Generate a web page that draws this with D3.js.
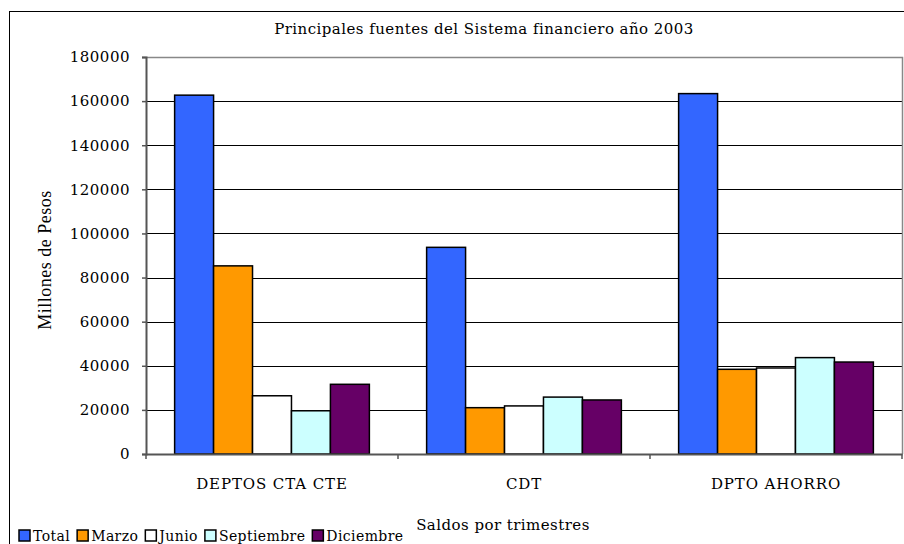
<!DOCTYPE html>
<html>
<head>
<meta charset="utf-8">
<script src="https://cdn.jsdelivr.net/npm/d3@7"></script>
<style>
  body { margin: 0; background: #fff; }
  text { font-family: "DejaVu Serif", serif; fill: #000; }
</style>
</head>
<body>
<svg id="chart" width="904" height="544"></svg>
<script>
const categories = ["DEPTOS CTA CTE", "CDT", "DPTO AHORRO"];
const series = ["Total", "Marzo", "Junio", "Septiembre", "Diciembre"];
const total = [162700, 93700, 163400];
const marzo = [85300, 21000, 38400];
const junio = [26400, 21800, 39000];
const septiembre = [19600, 25800, 43700];
const diciembre = [31600, 24500, 41700];
const yTicks = [0, 20000, 40000, 60000, 80000, 100000, 120000, 140000, 160000, 180000];
const colors = ["#3366FF", "#FF9900", "#FFFFFF", "#CCFFFF", "#660066"];

const values = [total, marzo, junio, septiembre, diciembre];
const data = categories.map((c, i) => ({
  cat: c,
  vals: series.map((s, j) => ({ key: s, value: values[j][i] }))
}));

const svg = d3.select("#chart");
const plot = { left: 146, right: 902, top: 57, bottom: 454 };

// chart area border
svg.append("rect")
  .attr("x", 9.5).attr("y", 11.5)
  .attr("width", 910).attr("height", 560)
  .attr("fill", "none").attr("stroke", "#000").attr("stroke-width", 1);

const x = d3.scaleBand().domain(categories).range([plot.left, plot.right]).padding(0);
const xInner = d3.scaleBand().domain(series).range([0, x.bandwidth()])
  .paddingInner(0).paddingOuter(0.735);
const y = d3.scaleLinear().domain([0, 180000]).range([plot.bottom, plot.top]);

// gridlines
svg.append("g")
  .selectAll("line")
  .data(yTicks.filter(d => d > 0 && d < 180000))
  .join("line")
  .attr("x1", plot.left).attr("x2", plot.right)
  .attr("y1", d => Math.round(y(d)) + 0.5).attr("y2", d => Math.round(y(d)) + 0.5)
  .attr("stroke", "#000").attr("stroke-width", 1);

// plot area border (top + right)
svg.append("path")
  .attr("d", `M${plot.left},${plot.top + 0.5}H${plot.right + 0.5}V${plot.bottom}`)
  .attr("fill", "none").attr("stroke", "#888").attr("stroke-width", 1.5);

// bars
const groups = svg.append("g")
  .selectAll("g")
  .data(data)
  .join("g")
  .attr("transform", d => `translate(${x(d.cat)},0)`);

groups.selectAll("rect")
  .data(d => d.vals)
  .join("rect")
  .attr("x", d => xInner(d.key))
  .attr("y", d => y(d.value))
  .attr("width", xInner.bandwidth())
  .attr("height", d => plot.bottom - y(d.value))
  .attr("fill", (d, i) => colors[i])
  .attr("stroke", "#000")
  .attr("stroke-width", 1.5);

// y axis
const yAxis = svg.append("g")
  .attr("transform", `translate(${plot.left},0)`)
  .call(d3.axisLeft(y).tickValues(yTicks).tickFormat(d3.format("d")).tickSize(4).tickPadding(12));
yAxis.select(".domain").attr("stroke", "#555").attr("stroke-width", 2);
yAxis.selectAll(".tick line").attr("stroke", "#555").attr("stroke-width", 1.5);
yAxis.selectAll("text")
  .style("font-size", "15px").style("font-family", "DejaVu Serif")
  .style("letter-spacing", "0.5px");

// x axis
const xAxis = svg.append("g")
  .attr("transform", `translate(0,${plot.bottom})`)
  .call(d3.axisBottom(x).tickSize(0).tickPadding(24));
xAxis.select(".domain").attr("stroke", "#555").attr("stroke-width", 2);
xAxis.selectAll("text")
  .style("font-size", "15px").style("font-family", "DejaVu Serif")
  .style("letter-spacing", "0.9px");
svg.append("g")
  .selectAll("line")
  .data(categories.map(c => x(c)).concat([plot.right]))
  .join("line")
  .attr("x1", d => d).attr("x2", d => d)
  .attr("y1", plot.bottom).attr("y2", plot.bottom + 5)
  .attr("stroke", "#555").attr("stroke-width", 1.5);

// title
svg.append("text")
  .attr("x", 484).attr("y", 34)
  .attr("text-anchor", "middle")
  .style("font-size", "15px")
  .style("letter-spacing", "0.45px")
  .text("Principales fuentes del Sistema financiero año 2003");

// axis titles
svg.append("text")
  .attr("transform", "translate(51,260) rotate(-90)")
  .attr("text-anchor", "middle")
  .style("font-family", "Liberation Serif")
  .style("font-size", "18px")
  .style("letter-spacing", "0.5px")
  .text("Millones de Pesos");

svg.append("text")
  .attr("x", 503).attr("y", 530)
  .attr("text-anchor", "middle")
  .style("font-size", "15px")
  .style("letter-spacing", "0.45px")
  .text("Saldos por trimestres");

// legend
const legend = svg.append("g").attr("transform", "translate(19,530)");
let lx = 0;
series.forEach((s, i) => {
  const item = legend.append("g").attr("transform", `translate(${lx},0)`);
  item.append("rect")
    .attr("x", 0).attr("y", 0).attr("width", 11).attr("height", 11)
    .attr("fill", colors[i]).attr("stroke", "#000").attr("stroke-width", 1.5);
  const t = item.append("text")
    .attr("x", 14).attr("y", 11)
    .style("font-size", "14px")
    .style("letter-spacing", "0.4px")
    .text(s);
  lx += 14 + t.node().getComputedTextLength() + 7;
});
</script>
</body>
</html>
